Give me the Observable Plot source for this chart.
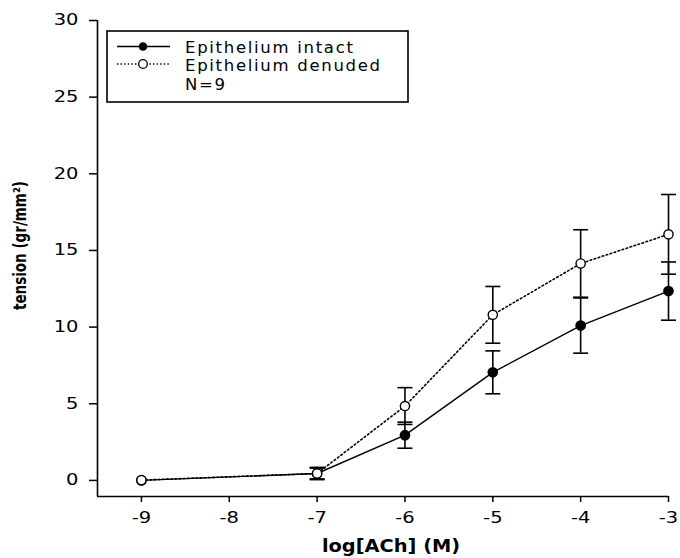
<!DOCTYPE html>
<html><head><meta charset="utf-8">
<script src="https://cdn.jsdelivr.net/npm/d3@7"></script>
<script src="https://cdn.jsdelivr.net/npm/@observablehq/plot@0.6"></script>
<style>
body{margin:0;background:#fff}
</style></head><body><div id="chart"></div>
<script>
const logConc = [-9, -7, -6, -5, -4, -3];
const intactMean = [0, 0.45, 2.95, 7.05, 10.1, 12.35];
const intactSem = [0, 0.4, 0.85, 1.4, 1.8, 1.9];
const denudedMean = [0.02, 0.45, 4.85, 10.8, 14.15, 16.05];
const denudedSem = [0, 0.35, 1.2, 1.85, 2.2, 2.6];
const xTicks = [-9, -8, -7, -6, -5, -4, -3];
const yTicks = [0, 5, 10, 15, 20, 25, 30];
const xDomain = [-9.5, -3];
const yDomain = [-1.05, 30];
const seriesNames = ["Epithelium intact", "Epithelium denuded"];
const legendNote = "N=9";
const xLabel = "log[ACh] (M)";
const yLabel = "tension (gr/mm²)";

const rows = (mean, sem, name) => logConc.map((x, i) => ({x, y: mean[i], sem: sem[i], lo: mean[i] - sem[i], hi: mean[i] + sem[i], series: name}));
const intact = rows(intactMean, intactSem, seriesNames[0]);
const denuded = rows(denudedMean, denudedSem, seriesNames[1]);
const bars = [...intact, ...denuded].filter(d => d.sem > 0);

const capSymbol = {draw(ctx, size) { const r = Math.sqrt(size / Math.PI); ctx.moveTo(-r, 0); ctx.lineTo(r, 0); }};

const plot = Plot.plot({
  width: 680, height: 558,
  marginLeft: 97, marginRight: 12, marginTop: 20, marginBottom: 62,
  style: {fontFamily: "DejaVu Sans", fontSize: "15px", color: "#000", background: "#fff"},
  x: {domain: xDomain},
  y: {domain: yDomain},
  marks: [
    Plot.ruleX([xDomain[0]], {stroke: "#000", strokeWidth: 1.6}),
    Plot.ruleY([yDomain[0]], {stroke: "#000", strokeWidth: 1.6}),
    Plot.axisY({ticks: yTicks, tickSize: 8, tickPadding: 11, label: null, tickFormat: d => String(d), strokeWidth: 1.5, fontSize: 15}),
    Plot.axisX({ticks: xTicks, tickSize: 6, tickPadding: 10, label: null, tickFormat: d => String(d), strokeWidth: 1.5, fontSize: 15}),
    Plot.ruleX(bars, {x: "x", y1: "lo", y2: "hi", stroke: "#000", strokeWidth: 1.6}),
    Plot.dot(bars, {x: "x", y: "lo", symbol: capSymbol, r: 7.5, stroke: "#000", strokeWidth: 1.6, fill: "none"}),
    Plot.dot(bars, {x: "x", y: "hi", symbol: capSymbol, r: 7.5, stroke: "#000", strokeWidth: 1.6, fill: "none"}),
    Plot.line(intact, {x: "x", y: "y", stroke: "#000", strokeWidth: 1.4}),
    Plot.line(denuded, {x: "x", y: "y", stroke: "#000", strokeWidth: 1.6, strokeDasharray: "1.6,2.6"}),
    Plot.dot(intact, {x: "x", y: "y", r: 4.6, fill: "#000", stroke: "#000"}),
    Plot.dot(denuded, {x: "x", y: "y", r: 4.6, fill: "#fff", stroke: "#000", strokeWidth: 1.4}),
    Plot.text([xLabel], {frameAnchor: "bottom", textAnchor: "middle", dx: 8, dy: 55, fontWeight: "bold", fontSize: 17, fill: "#000"}),
    Plot.text([yLabel], {frameAnchor: "left", textAnchor: "middle", lineAnchor: "middle", rotate: -90, dx: -77, dy: -13, fontWeight: "bold", fontSize: 13.5, fill: "#000"})
  ]
});
document.getElementById("chart").appendChild(plot);

const svg = d3.select(plot);
const stretch = (el, sx, sy) => {
  const t = el.getAttribute("transform") || "";
  if (/translate/.test(t)) el.setAttribute("transform", t + ` scale(${sx},${sy})`);
};
// the reference's type is stretched horizontally
svg.selectAll("text").each(function() {
  const s = this.textContent.trim();
  if (/^-?\d+$/.test(s)) stretch(this, 1.3, 1);
  else if (s === xLabel) stretch(this, 1.14, 1);
  else if (s === yLabel) stretch(this, 1, 1.3);
});

// legend
const lg = svg.append("g").attr("font-family", "DejaVu Sans").attr("font-size", 16.5).attr("text-anchor", "start").style("letter-spacing", "1.7px");
lg.append("rect").attr("x", 107).attr("y", 31).attr("width", 301).attr("height", 71).attr("fill", "#fff").attr("stroke", "#000").attr("stroke-width", 1.6);
lg.append("line").attr("x1", 117).attr("x2", 170).attr("y1", 46.5).attr("y2", 46.5).attr("stroke", "#000").attr("stroke-width", 1.4);
lg.append("circle").attr("cx", 143).attr("cy", 46.5).attr("r", 4.3).attr("fill", "#000");
lg.append("line").attr("x1", 117).attr("x2", 170).attr("y1", 64).attr("y2", 64).attr("stroke", "#000").attr("stroke-width", 1.4).attr("stroke-dasharray", "1.4,2.2");
lg.append("circle").attr("cx", 143).attr("cy", 64).attr("r", 4.3).attr("fill", "#fff").attr("stroke", "#000").attr("stroke-width", 1.3);
[...seriesNames, legendNote].forEach((t, i) => {
  lg.append("text").attr("x", 185).attr("y", [52.5, 71, 89.5][i]).attr("fill", "#000").attr("text-anchor", "start").text(t);
});
</script></body></html>
